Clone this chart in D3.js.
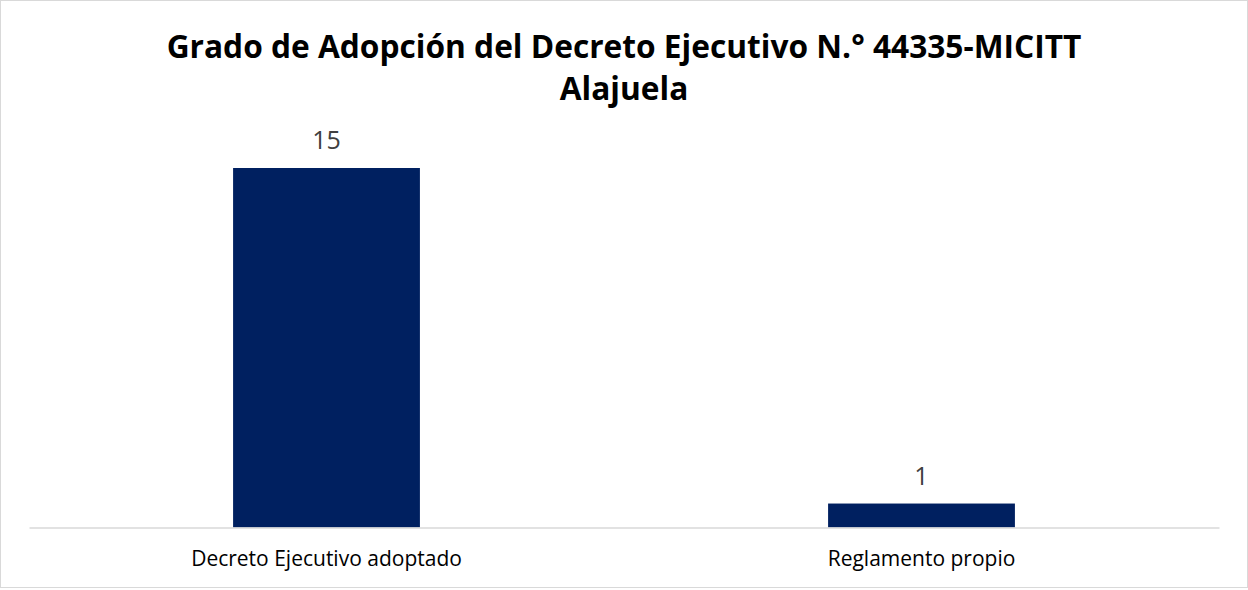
<!DOCTYPE html>
<html>
<head>
<meta charset="utf-8">
<script src="https://cdn.jsdelivr.net/npm/d3@7"></script>
<style>
  body { margin: 0; background: #fff; }
  svg { display: block; }
</style>
</head>
<body>
<div id="chart"></div>
<script>
const titleLines = ["Grado de Adopción del Decreto Ejecutivo N.° 44335-MICITT", "Alajuela"];
const categories = ["Decreto Ejecutivo adoptado", "Reglamento propio"];
const values = [15, 1];

const width = 1248, height = 590;
const margin = { top: 168, right: 29, bottom: 62, left: 29 };
const fontFam = "'Open Sans', 'Liberation Sans', sans-serif";

const svg = d3.select("#chart").append("svg")
    .attr("width", width)
    .attr("height", height);

// outer frame
svg.append("rect")
    .attr("x", 0.5).attr("y", 0.5)
    .attr("width", width - 1).attr("height", height - 3)
    .attr("fill", "#fff")
    .attr("stroke", "#d9d9d9");

const x = d3.scaleBand()
    .domain(categories)
    .range([margin.left, width - margin.right])
    .paddingInner(0.686)
    .paddingOuter(0.343);

const y = d3.scaleLinear()
    .domain([0, 15])
    .range([height - margin.bottom - 0.5, margin.top]);

// title, scaled to the reference width
const title = svg.append("text")
    .attr("text-anchor", "middle")
    .attr("font-family", fontFam)
    .attr("font-weight", "bold")
    .attr("fill", "#000");
title.selectAll("tspan")
    .data(titleLines)
    .enter().append("tspan")
    .attr("x", width / 2)
    .attr("y", (d, i) => 58 + i * 42)
    .text(d => d);
title.attr("font-size", 29);
let tw = title.select("tspan").node().getComputedTextLength();
title.attr("font-size", 29 * 915 / tw);

// bars
svg.selectAll(".bar")
    .data(values)
    .enter().append("rect")
    .attr("class", "bar")
    .attr("x", (d, i) => x(categories[i]))
    .attr("y", d => y(d))
    .attr("width", x.bandwidth())
    .attr("height", d => y(0) - y(d))
    .attr("fill", "#002060");

// data labels
svg.selectAll(".lbl")
    .data(values)
    .enter().append("text")
    .attr("class", "lbl")
    .attr("x", (d, i) => x(categories[i]) + x.bandwidth() / 2)
    .attr("y", d => y(d) - 19)
    .attr("text-anchor", "middle")
    .attr("font-family", fontFam)
    .attr("font-size", 25)
    .attr("fill", "#404040")
    .text(d => d);

// x axis
const xAxis = d3.axisBottom(x).tickSize(0).tickPadding(24);
const gx = svg.append("g")
    .attr("transform", "translate(0," + y(0) + ")")
    .call(xAxis);
gx.select(".domain").attr("stroke", "#d9d9d9").attr("stroke-width", 1.5);
gx.selectAll("text")
    .attr("font-family", fontFam)
    .attr("font-size", 21)
    .attr("fill", "#000");
</script>
</body>
</html>
